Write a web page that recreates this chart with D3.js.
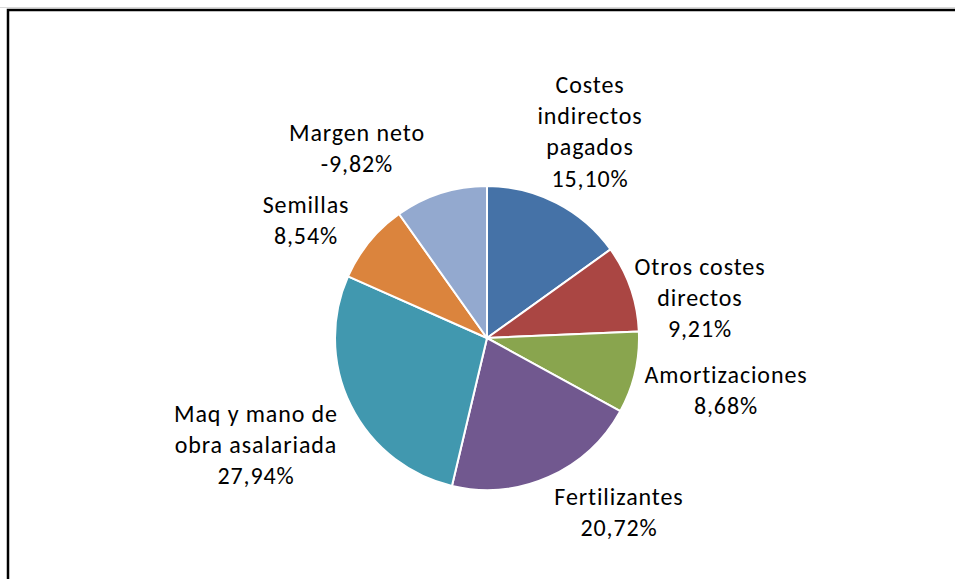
<!DOCTYPE html>
<html>
<head>
<meta charset="utf-8">
<script src="https://cdn.jsdelivr.net/npm/d3@7"></script>
<style>
  html, body { margin: 0; padding: 0; background: #fff; }
  svg { display: block; }
</style>
</head>
<body>
<svg id="chart" width="955" height="579"></svg>
<script>
// ---- data ----
const categories = ["Costes indirectos pagados", "Otros costes directos", "Amortizaciones", "Fertilizantes", "Maq y mano de obra asalariada", "Semillas", "Margen neto"];
const values = [15.10, 9.21, 8.68, 20.72, 27.94, 8.54, -9.82];
const labelLines = [
  ["Costes", "indirectos", "pagados"],
  ["Otros costes", "directos"],
  ["Amortizaciones"],
  ["Fertilizantes"],
  ["Maq y mano de", "obra asalariada"],
  ["Semillas"],
  ["Margen neto"]
];
const colors = ["#4572A7", "#AA4643", "#89A54E", "#71588F", "#4198AF", "#DB843D", "#93A9CF"];

// ---- layout (label anchor: center x, first baseline y) ----
const labelAnchors = [
  [590, 93], [700, 275], [726, 383], [619, 505], [256, 422], [306, 213], [357, 141]
];
const lineH = 31.2;

const svg = d3.select("#chart");
const W = 955, H = 579;

// frame
svg.append("line").attr("x1", 0).attr("x2", W).attr("y1", 7.5).attr("y2", 7.5)
  .attr("stroke", "#d9d9d9").attr("stroke-width", 1);
svg.append("path").attr("d", `M8,${H} V10 H${W}`)
  .attr("fill", "none").attr("stroke", "#000").attr("stroke-width", 2.5);

const cx = 487, cy = 338, r = 152;
const g = svg.append("g").attr("transform", `translate(${cx},${cy})`);

const pie = d3.pie().sort(null).value(d => Math.abs(d)).startAngle(0).endAngle(2 * Math.PI);
const arcs = pie(values);
const arc = d3.arc().innerRadius(0).outerRadius(r);

g.selectAll("path.slice").data(arcs).enter().append("path")
  .attr("class", "slice")
  .attr("d", arc)
  .attr("fill", (d, i) => colors[i])
  .attr("stroke", "#fff")
  .attr("stroke-width", 2)
  .attr("stroke-linejoin", "round");

const fmt = v => d3.format(".2f")(v).replace(".", ",").replace("\u2212", "-") + "%";

const labels = svg.append("g")
  .attr("font-family", "Carlito, Lato, 'Open Sans', sans-serif")
  .attr("font-size", 24)
  .attr("letter-spacing", "0.9px")
  .attr("fill", "#000")
  .attr("text-anchor", "middle");

values.forEach((v, i) => {
  const lines = labelLines[i].concat([fmt(v)]);
  const t = labels.append("text");
  lines.forEach((ln, j) => {
    t.append("tspan")
      .attr("x", labelAnchors[i][0])
      .attr("y", labelAnchors[i][1] + j * lineH)
      .text(ln);
  });
});
</script>
</body>
</html>
